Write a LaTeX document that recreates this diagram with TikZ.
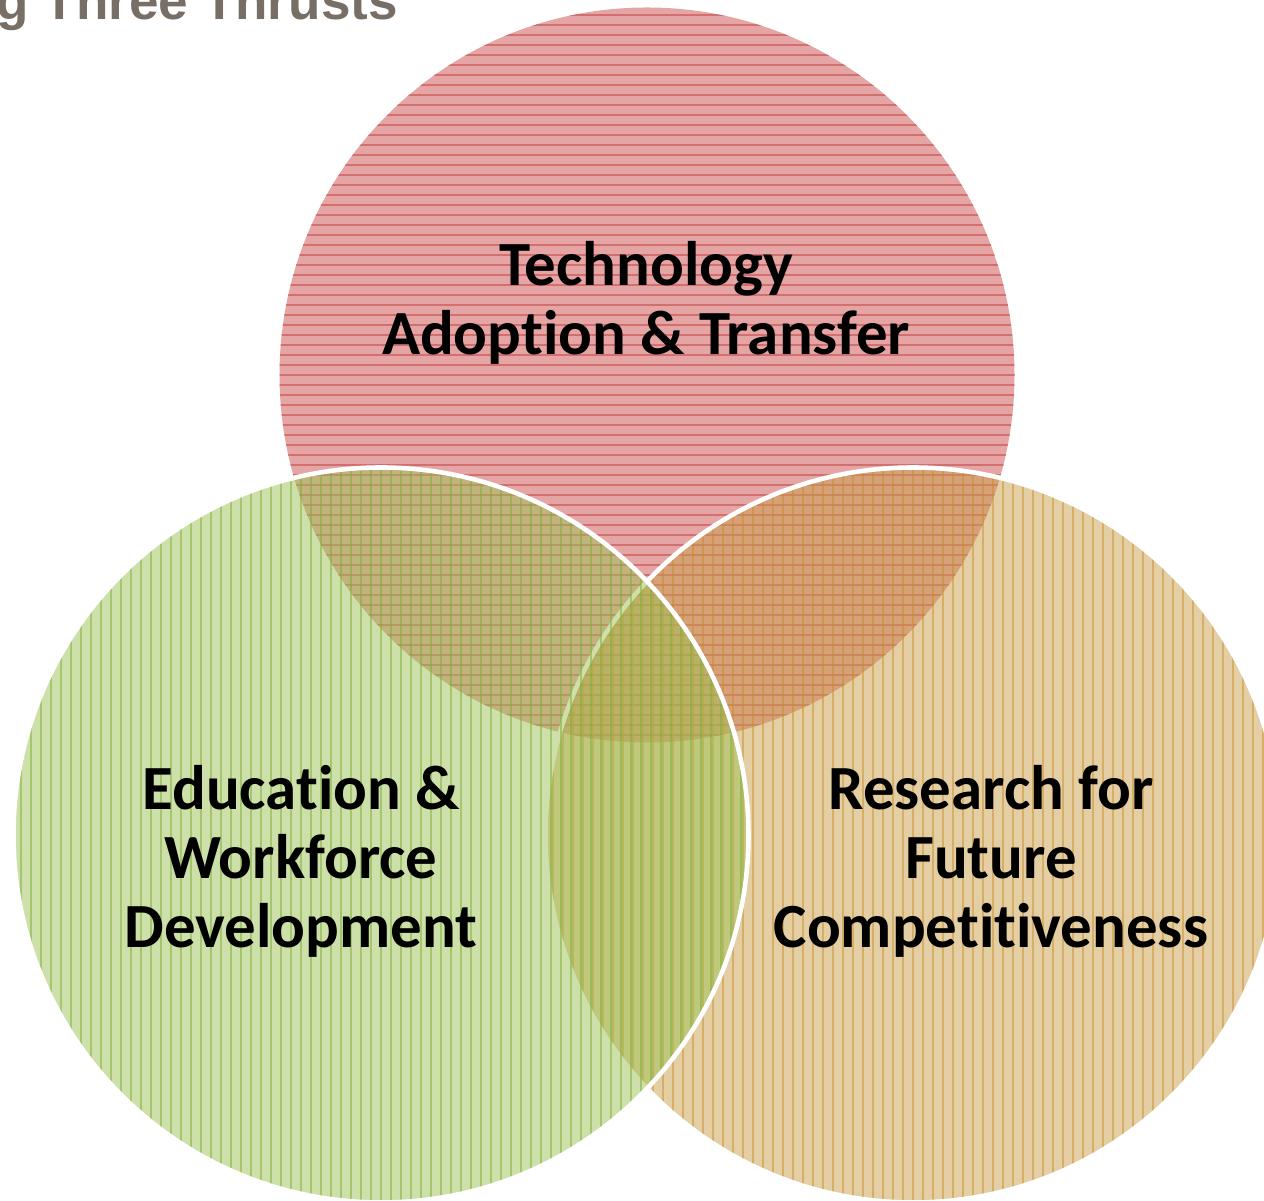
\documentclass[tikz,border=0pt]{standalone}
\usepackage{fontspec}
\setmainfont{Carlito}[Ligatures={NoCommon}]
\newfontfamily\titlefont{Liberation Sans}
\usetikzlibrary{positioning}
\definecolor{techred}{RGB}{205,76,76}
\definecolor{techline}{RGB}{190,60,60}
\definecolor{edugreen}{RGB}{156,194,84}
\definecolor{eduline}{RGB}{125,172,55}
\definecolor{restan}{RGB}{201,158,74}
\definecolor{resline}{RGB}{200,142,45}
\definecolor{titlegray}{RGB}{119,110,102}

\begin{document}
\begin{tikzpicture}[
    thrust/.style={circle,minimum size=7.35cm,inner sep=0pt,fill opacity=0.5},
    rim/.style={draw=white,line width=1.3pt},
    hstripe/.style={techline,line width=0.4pt,draw opacity=0.5},
    vstripe/.style={line width=0.4pt,draw opacity=0.5},
    thrustname/.style={font=\bfseries\fontsize{17.9}{19.6}\selectfont,align=center,inner sep=0pt,text=black}
  ]

    \useasboundingbox (0,0) rectangle (12.64,12.01);
    \clip (0,0) rectangle (12.64,12.01);

    \node[anchor=base west,inner sep=0pt,text=titlegray,
      font=\titlefont\bfseries\fontsize{15.1}{18}\selectfont] (title) at (-0.04,11.81) {g Three Thrusts};

    % technology adoption & transfer
    \node[thrust,fill=techred] (tech) at (6.47,8.26) {};
    \begin{scope}
      \clip (tech.center) circle (3.675);
      \foreach \k in {0,...,74}
        \draw[hstripe,shift={(tech.center)}] (-3.7,{\k*0.1-3.7}) -- ++(7.4,0);
    \end{scope}

    % research for future competitiveness
    \node[thrust,fill=restan] (res) at (9.13,3.66) {};
    \begin{scope}
      \clip (res.center) circle (3.675);
      \foreach \k in {0,...,74}
        \draw[vstripe,resline,shift={(res.center)}] ({\k*0.1-3.7},-3.7) -- ++(0,7.4);
    \end{scope}
    \draw[rim] (res.center) circle (3.675);

    % education & workforce development
    \node[thrust,fill=edugreen] (edu) at (3.81,3.66) {};
    \begin{scope}
      \clip (edu.center) circle (3.675);
      \foreach \k in {0,...,74}
        \draw[vstripe,eduline,shift={(edu.center)}] ({\k*0.1-3.7},-3.7) -- ++(0,7.4);
    \end{scope}
    \draw[rim] (edu.center) circle (3.675);

    \node[thrustname] (techname) at (6.46,8.98) {Technology\\Adoption \& Transfer};
    \node[thrustname] (eduname) at (3.01,3.395) {Education \&\\Workforce\\Development};
    \node[thrustname] (resname) at (9.91,3.395) {Research for\\Future\\Competitiveness};

\end{tikzpicture}
\end{document}
